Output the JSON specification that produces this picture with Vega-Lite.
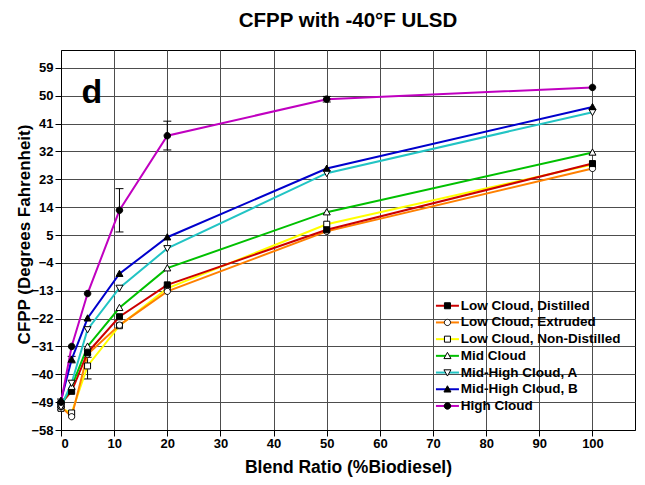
{
  "$schema": "https://vega.github.io/schema/vega-lite/v6.json",
  "width": 574,
  "height": 380,
  "autosize": {"type": "none"},
  "padding": {"left": 61, "top": 50, "right": 10, "bottom": 55},
  "background": "white",
  "title": {"text": "CFPP with -40°F ULSD", "font": "Liberation Sans", "fontSize": 20.5, "fontWeight": "bold", "color": "black", "offset": 19, "anchor": "middle"},
  "config": {
    "font": "Liberation Sans",
    "view": {"stroke": "black", "strokeWidth": 1},
    "axis": {
      "labelFont": "Liberation Sans", "labelFontWeight": "bold", "labelFontSize": 13, "labelColor": "black", "labelOverlap": false,
      "titleFont": "Liberation Sans", "titleFontWeight": "bold", "titleFontSize": 17.5, "titleColor": "black",
      "domainColor": "black", "tickColor": "black", "tickSize": 6,
      "gridColor": "#4d4d4d", "gridWidth": 1, "gridOpacity": 1
    }
  },
  "datasets": {
    "series": [
      {"series": "Low Cloud, Non-Distilled", "blend": 0, "cfpp": -51},
      {"series": "Low Cloud, Non-Distilled", "blend": 2, "cfpp": -52.5},
      {"series": "Low Cloud, Non-Distilled", "blend": 5, "cfpp": -37.3},
      {"series": "Low Cloud, Non-Distilled", "blend": 11, "cfpp": -24.3},
      {"series": "Low Cloud, Non-Distilled", "blend": 20, "cfpp": -12.2},
      {"series": "Low Cloud, Non-Distilled", "blend": 50, "cfpp": 8.5},
      {"series": "Low Cloud, Non-Distilled", "blend": 100, "cfpp": 27.8},
      {"series": "Low Cloud, Extruded", "blend": 0, "cfpp": -50.5},
      {"series": "Low Cloud, Extruded", "blend": 2, "cfpp": -53.7},
      {"series": "Low Cloud, Extruded", "blend": 5, "cfpp": -33.5},
      {"series": "Low Cloud, Extruded", "blend": 11, "cfpp": -24.1},
      {"series": "Low Cloud, Extruded", "blend": 20, "cfpp": -13.2},
      {"series": "Low Cloud, Extruded", "blend": 50, "cfpp": 6.2},
      {"series": "Low Cloud, Extruded", "blend": 100, "cfpp": 26.5},
      {"series": "Low Cloud, Distilled", "blend": 0, "cfpp": -49.5},
      {"series": "Low Cloud, Distilled", "blend": 2, "cfpp": -45.5},
      {"series": "Low Cloud, Distilled", "blend": 5, "cfpp": -33},
      {"series": "Low Cloud, Distilled", "blend": 11, "cfpp": -21.4},
      {"series": "Low Cloud, Distilled", "blend": 20, "cfpp": -11.1},
      {"series": "Low Cloud, Distilled", "blend": 50, "cfpp": 6.7},
      {"series": "Low Cloud, Distilled", "blend": 100, "cfpp": 28.1},
      {"series": "Mid Cloud", "blend": 0, "cfpp": -50},
      {"series": "Mid Cloud", "blend": 2, "cfpp": -44},
      {"series": "Mid Cloud", "blend": 5, "cfpp": -31},
      {"series": "Mid Cloud", "blend": 11, "cfpp": -18.5},
      {"series": "Mid Cloud", "blend": 20, "cfpp": -5.7},
      {"series": "Mid Cloud", "blend": 50, "cfpp": 12.4},
      {"series": "Mid Cloud", "blend": 100, "cfpp": 31.7},
      {"series": "Mid-High Cloud, A", "blend": 0, "cfpp": -50.5},
      {"series": "Mid-High Cloud, A", "blend": 2, "cfpp": -42.8},
      {"series": "Mid-High Cloud, A", "blend": 5, "cfpp": -25.5},
      {"series": "Mid-High Cloud, A", "blend": 11, "cfpp": -12.1},
      {"series": "Mid-High Cloud, A", "blend": 20, "cfpp": 0.7},
      {"series": "Mid-High Cloud, A", "blend": 50, "cfpp": 25},
      {"series": "Mid-High Cloud, A", "blend": 100, "cfpp": 44.7},
      {"series": "Mid-High Cloud, B", "blend": 0, "cfpp": -48.5},
      {"series": "Mid-High Cloud, B", "blend": 2, "cfpp": -35.2},
      {"series": "Mid-High Cloud, B", "blend": 5, "cfpp": -21.9},
      {"series": "Mid-High Cloud, B", "blend": 11, "cfpp": -7.5},
      {"series": "Mid-High Cloud, B", "blend": 20, "cfpp": 4.3},
      {"series": "Mid-High Cloud, B", "blend": 50, "cfpp": 26.5},
      {"series": "Mid-High Cloud, B", "blend": 100, "cfpp": 46.4},
      {"series": "High Cloud", "blend": 0, "cfpp": -49},
      {"series": "High Cloud", "blend": 2, "cfpp": -31},
      {"series": "High Cloud", "blend": 5, "cfpp": -13.9},
      {"series": "High Cloud", "blend": 11, "cfpp": 13},
      {"series": "High Cloud", "blend": 20, "cfpp": 37.1},
      {"series": "High Cloud", "blend": 50, "cfpp": 48.9},
      {"series": "High Cloud", "blend": 100, "cfpp": 52.7}
    ],
    "err": [
      {"blend": 11, "lo": 6, "hi": 20},
      {"blend": 20, "lo": 32.5, "hi": 41.8},
      {"blend": 50, "lo": 48, "hi": 49.8},
      {"blend": 2, "lo": -36.3, "hi": -34.2},
      {"blend": 5, "lo": -41.5, "hi": -34.5},
      {"blend": 0, "lo": -51.5, "hi": -48}
    ],
    "note": [{"blend": 5.8, "cfpp": 51, "label": "d"}]
  },
  "layer": [
    {
      "data": {"name": "err"},
      "mark": {"type": "rule", "color": "black", "strokeWidth": 1},
      "encoding": {
        "x": {"field": "blend", "type": "quantitative", "title": "Blend Ratio (%Biodiesel)"},
        "y": {"field": "lo", "type": "quantitative", "title": "CFPP (Degrees Fahrenheit)"},
        "y2": {"field": "hi"}
      }
    },
    {
      "data": {"name": "err"},
      "mark": {"type": "tick", "orient": "horizontal", "size": 8, "thickness": 1, "color": "black", "opacity": 1},
      "encoding": {
        "x": {"field": "blend", "type": "quantitative", "title": "Blend Ratio (%Biodiesel)"},
        "y": {"field": "lo", "type": "quantitative", "title": "CFPP (Degrees Fahrenheit)"}
      }
    },
    {
      "data": {"name": "err"},
      "mark": {"type": "tick", "orient": "horizontal", "size": 8, "thickness": 1, "color": "black", "opacity": 1},
      "encoding": {
        "x": {"field": "blend", "type": "quantitative", "title": "Blend Ratio (%Biodiesel)"},
        "y": {"field": "hi", "type": "quantitative", "title": "CFPP (Degrees Fahrenheit)"}
      }
    },
    {
      "data": {"name": "series"},
      "mark": {"type": "line", "strokeWidth": 2},
      "encoding": {
        "x": {
          "field": "blend", "type": "quantitative", "title": "Blend Ratio (%Biodiesel)",
          "scale": {"domain": [0, 108], "nice": false, "zero": false},
          "axis": {"values": [0, 10, 20, 30, 40, 50, 60, 70, 80, 90, 100], "tickCount": 30, "labelPadding": 1, "titlePadding": 8, "grid": true, "labelOverlap": false}
        },
        "y": {
          "field": "cfpp", "type": "quantitative", "title": "CFPP (Degrees Fahrenheit)",
          "scale": {"domain": [-58, 64.8], "nice": false, "zero": false},
          "axis": {"values": [-58, -49, -40, -31, -22, -13, -4, 5, 14, 23, 32, 41, 50, 59], "tickCount": 30, "labelPadding": 2, "titlePadding": -3, "titleY": 184, "grid": true, "labelOverlap": false, "titleFontSize": 17}
        },
        "color": {
          "field": "series", "type": "nominal",
          "sort": ["Low Cloud, Distilled", "Low Cloud, Extruded", "Low Cloud, Non-Distilled", "Mid Cloud", "Mid-High Cloud, A", "Mid-High Cloud, B", "High Cloud"],
          "scale": {
            "range": ["#cc0000", "#ff8000", "#ffff00", "#00c000", "#22c4c4", "#0000cc", "#c000c0"]
          },
          "legend": {
            "title": null, "orient": "none", "legendX": 379.7, "legendY": 249, "padding": 0, "zindex": 1,
            "symbolType": "M-2.3,0H2.3", "symbolSize": 100, "symbolStrokeWidth": 2, "symbolOffset": 0,
            "labelFont": "Liberation Sans", "labelFontWeight": "bold", "labelFontSize": 13.5, "labelColor": "black",
            "labelOffset": 6.5, "rowPadding": 1.7, "labelLimit": 300
          }
        }
      }
    },
    {
      "data": {"name": "series"},
      "mark": {"type": "point", "filled": true, "strokeWidth": 1, "size": 100, "opacity": 1},
      "encoding": {
        "x": {"field": "blend", "type": "quantitative", "title": "Blend Ratio (%Biodiesel)"},
        "y": {"field": "cfpp", "type": "quantitative", "title": "CFPP (Degrees Fahrenheit)"},
        "shape": {
          "field": "series", "type": "nominal",
          "scale": {
            "domain": ["Low Cloud, Distilled", "Low Cloud, Extruded", "Low Cloud, Non-Distilled", "Mid Cloud", "Mid-High Cloud, A", "Mid-High Cloud, B", "High Cloud"],
            "range": [
            "M-0.6,-0.6H0.6V0.6H-0.6Z",
            "M0.62,0A0.62,0.62,0,1,1,-0.62,0A0.62,0.62,0,1,1,0.62,0Z",
            "M-0.6,-0.6H0.6V0.6H-0.6Z",
            "M0,-0.7L0.7,0.55H-0.7Z",
            "M0,0.7L0.7,-0.55H-0.7Z",
            "M0,-0.7L0.7,0.55H-0.7Z",
            "M0.65,0A0.65,0.65,0,1,1,-0.65,0A0.65,0.65,0,1,1,0.65,0Z"
          ]},
          "legend": {
            "title": null, "orient": "none", "legendX": 379.7, "legendY": 249, "padding": 0, "zindex": 2,
            "symbolSize": 100, "symbolOffset": 0, "symbolStrokeWidth": 1,
            "labelFont": "Liberation Sans", "labelFontWeight": "bold", "labelFontSize": 13.5, "labelColor": "transparent",
            "labelOffset": 6.5, "rowPadding": 1.7, "labelLimit": 300
          }
        },
        "fill": {
          "field": "series", "type": "nominal",
          "scale": {
            "domain": ["Low Cloud, Distilled", "Low Cloud, Extruded", "Low Cloud, Non-Distilled", "Mid Cloud", "Mid-High Cloud, A", "Mid-High Cloud, B", "High Cloud"],
            "range": ["black", "white", "white", "white", "white", "black", "black"]
          },
          "legend": {
            "title": null, "orient": "none", "legendX": 379.7, "legendY": 249, "padding": 0, "zindex": 2,
            "symbolSize": 100, "symbolOffset": 0, "symbolStrokeWidth": 1,
            "labelFont": "Liberation Sans", "labelFontWeight": "bold", "labelFontSize": 13.5, "labelColor": "transparent",
            "labelOffset": 6.5, "rowPadding": 1.7, "labelLimit": 300
          }
        },
        "stroke": {
          "field": "series", "type": "nominal",
          "scale": {
            "domain": ["Low Cloud, Distilled", "Low Cloud, Extruded", "Low Cloud, Non-Distilled", "Mid Cloud", "Mid-High Cloud, A", "Mid-High Cloud, B", "High Cloud"],
            "range": ["black", "black", "black", "black", "black", "black", "black"]
          },
          "legend": {
            "title": null, "orient": "none", "legendX": 379.7, "legendY": 249, "padding": 0, "zindex": 2,
            "symbolSize": 100, "symbolOffset": 0, "symbolStrokeWidth": 1,
            "labelFont": "Liberation Sans", "labelFontWeight": "bold", "labelFontSize": 13.5, "labelColor": "transparent",
            "labelOffset": 6.5, "rowPadding": 1.7, "labelLimit": 300
          }
        }
      }
    },
    {
      "data": {"name": "note"},
      "mark": {"type": "text", "font": "Liberation Sans", "fontWeight": "bold", "fontSize": 34, "color": "black", "align": "center", "baseline": "middle"},
      "encoding": {
        "x": {"field": "blend", "type": "quantitative", "title": "Blend Ratio (%Biodiesel)"},
        "y": {"field": "cfpp", "type": "quantitative", "title": "CFPP (Degrees Fahrenheit)"},
        "text": {"field": "label"}
      }
    }
  ]
}
